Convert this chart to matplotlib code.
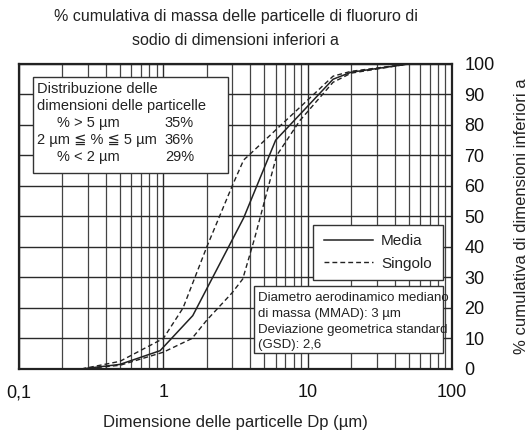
import matplotlib
matplotlib.use("Agg")
import matplotlib.pyplot as plt
from matplotlib.patches import Rectangle

plt.rcParams['font.family'] = ['Liberation Sans', 'DejaVu Sans']

# particle size (um) vs cumulative mass % below that size
media_x = [0.27, 0.5, 0.95, 1.6, 3.6, 6.0, 15, 20, 50]
media_y = [0, 1.5, 6, 17.5, 49.5, 75, 95, 97.3, 100]

sing_hi_x = [0.27, 0.5, 1.0, 1.37, 2.0, 3.0, 3.6, 4.0, 15, 20, 50]
sing_hi_y = [0, 2.5, 10, 20, 40, 60, 68.5, 70.5, 96, 97.6, 100]

sing_lo_x = [0.27, 0.5, 1.0, 1.58, 2.0, 3.0, 3.55, 4.3, 6.1, 8.85, 15, 20, 50]
sing_lo_y = [0, 1.2, 5.5, 10, 16, 25, 29.5, 43, 70, 81.5, 94, 97, 100]

x_major = [0.1, 1, 10, 100]
x_labels = ['0,1', '1', '10', '100']
y_ticks = list(range(0, 101, 10))

dist_rows = [('% > 5 µm', '35%'), ('2 µm ≦ % ≦ 5 µm', '36%'), ('% < 2 µm', '29%')]

fig = plt.figure(figsize=(5.3, 4.3), dpi=100)
ax = fig.add_axes([0.0358, 0.1419, 0.8170, 0.7093])

ax.plot(media_x, media_y, color='#222222', lw=1.1, label='Media')
ax.plot(sing_hi_x, sing_hi_y, color='#222222', lw=1.0, ls=(0, (3.5, 2.2)), label='Singolo')
ax.plot(sing_lo_x, sing_lo_y, color='#222222', lw=1.0, ls=(0, (3.5, 2.2)))

ax.set_xscale('log')
ax.set_xlim(0.1, 100)
ax.set_ylim(0, 100)
minor = [k * 10.0 ** n for n in (-1, 0, 1) for k in range(2, 10)]
ax.set_xticks(x_major)
ax.set_xticklabels(x_labels)
ax.set_xticks(minor, minor=True)
ax.set_xticklabels([], minor=True)
ax.set_yticks(y_ticks)
ax.grid(True, which='major', color='#2a2a2a', lw=1.0)
ax.grid(True, which='minor', color='#444444', lw=0.9)
ax.set_axisbelow(True)

ax.yaxis.tick_right()
ax.tick_params(which='both', length=0, labelsize=13, colors='#111111')
ax.tick_params(axis='x', pad=11)
ax.tick_params(axis='y', pad=9)
for s in ax.spines.values():
    s.set_linewidth(1.6)
    s.set_color('#222222')

ax.set_xlabel('Dimensione delle particelle Dp (µm)', fontsize=12, labelpad=10, color='#222222')
ax.yaxis.set_label_position('right')
ax.set_ylabel('% cumulativa di dimensioni inferiori a', fontsize=12, labelpad=14, color='#222222')
ax.set_title('% cumulativa di massa delle particelle di fluoruro di\nsodio di dimensioni inferiori a',
             fontsize=11.5, pad=14, color='#222222', linespacing=1.75)

# distribution box, top left
ax.add_patch(Rectangle((0.032, 0.643), 0.451, 0.314, transform=ax.transAxes,
                       facecolor='white', edgecolor='#333333', lw=1.0, zorder=5))
tfont = dict(fontsize=10.5, color='#222222', transform=ax.transAxes, zorder=6, va='center')
ax.text(0.041, 0.918, 'Distribuzione delle', **tfont)
ax.text(0.041, 0.863, 'dimensioni delle particelle', **tfont)
row_y = [0.806, 0.750, 0.695]
row_x = [0.088, 0.041, 0.088]
for (lab, val), yy, xx in zip(dist_rows, row_y, row_x):
    ax.text(xx, yy, lab, **tfont)
    ax.text(0.337, yy, val, **tfont)

# legend box
ax.add_patch(Rectangle((0.679, 0.292), 0.300, 0.180, transform=ax.transAxes,
                       facecolor='white', edgecolor='#333333', lw=1.0, zorder=5))
leg = ax.legend(loc='center', bbox_to_anchor=(0.679, 0.292, 0.300, 0.180),
                frameon=False, fontsize=11, handlelength=3.2, handletextpad=0.5,
                labelspacing=0.55, labelcolor='#222222')
leg.set_zorder(7)

# MMAD / GSD box
ax.add_patch(Rectangle((0.543, 0.052), 0.436, 0.220, transform=ax.transAxes,
                       facecolor='white', edgecolor='#333333', lw=1.0, zorder=5))
mfont = dict(fontsize=9.5, color='#222222', transform=ax.transAxes, zorder=6, va='center',
             family=['Liberation Sans Narrow', 'Liberation Sans', 'DejaVu Sans'])
mlines = ['Diametro aerodinamico mediano', 'di massa (MMAD): 3 µm',
          'Deviazione geometrica standard', '(GSD): 2,6']
for i, line in enumerate(mlines):
    ax.text(0.553, 0.233 - i * 0.052, line, **mfont)

fig.savefig('out.png', dpi=100)
